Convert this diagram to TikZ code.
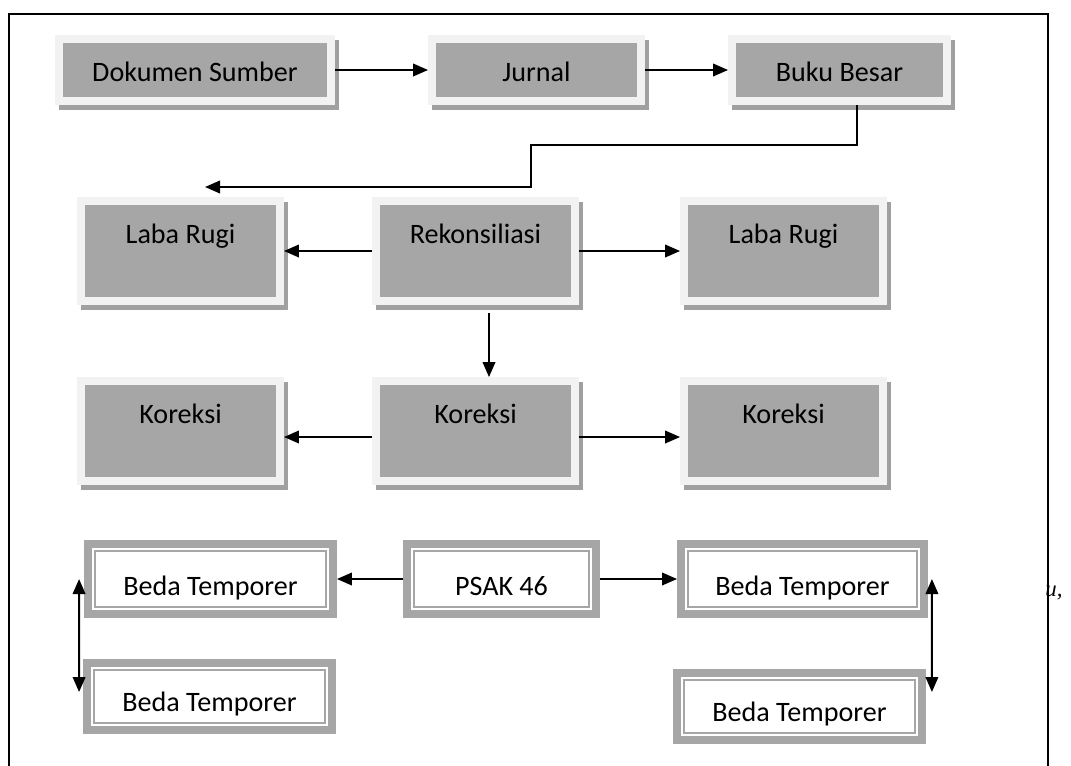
\documentclass[tikz,border=0pt]{standalone}
\usepackage{fontspec}
\setmainfont{Carlito}
\newfontfamily\serifit{Liberation Serif}
\usetikzlibrary{arrows.meta,calc}
\definecolor{boxGrey}{HTML}{A6A6A6}
\definecolor{rimGrey}{HTML}{F2F2F2}
\definecolor{shadeGrey}{HTML}{A0A0A0}
\definecolor{bandGrey}{HTML}{A6A6A6}

\begin{document}
\begin{tikzpicture}[x=0.02cm, y=-0.02cm,
  font=\fontsize{16}{19}\selectfont,
  gbox/.style={fill=boxGrey, draw=rimGrey, line width=4.5pt, inner sep=0pt,
               preaction={draw=shadeGrey, fill=shadeGrey, line width=4.5pt,
                          transform canvas={shift={(4,5)}}}},
  rowa/.style={gbox, text height=0.85cm, text depth=0.39cm},
  rowb/.style={gbox, minimum width=3.98cm, text height=0.84cm, text depth=1.16cm},
  dbox/.style={draw=bandGrey, fill=white, line width=4.5pt, inner sep=0pt,
               text height=1.02cm, text depth=0.38cm,
               path picture={\draw[bandGrey, line width=1.1pt]
                 ([shift={(7,7)}]path picture bounding box.north west) rectangle
                 ([shift={(-7,-7)}]path picture bounding box.south east);}},
  arr/.style={-{Triangle[length=0.3cm, width=0.25cm]}, line width=1.2pt},
  darr/.style={{Triangle[length=0.3cm, width=0.25cm]}-{Triangle[length=0.3cm, width=0.25cm]}, line width=1.2pt}]

\useasboundingbox (0,0) rectangle (1071,765);

% top row
\node[rowa, minimum width=5.44cm] (dok) at (195,70) {Dokumen Sumber};
\node[rowa, minimum width=4.18cm] (jur) at (536.5,70) {Jurnal};
\node[rowa, minimum width=4.30cm] (bb) at (839.5,70) {Buku Besar};

\draw[arr] (dok) -- (jur);
\draw[arr] (jur) -- (bb);

\coordinate (k1) at (857,145);
\coordinate (k2) at (531,145);
\coordinate (k3) at (531,187);
\coordinate (k4) at (205,187);
\draw[arr] (bb.south -| k1) -- (k1) -- (k2) -- (k3) -- (k4);

% second and third row
\node[rowb] (lr1) at (180.5,251) {Laba Rugi};
\node[rowb] (rek) at (475.5,251) {Rekonsiliasi};
\node[rowb] (lr2) at (783.5,251) {Laba Rugi};
\node[rowb] (kor1) at (180.5,431) {Koreksi};
\node[rowb] (kor) at (475.5,431) {Koreksi};
\node[rowb] (kor2) at (783.5,431) {Koreksi};

\draw[arr] (rek) -- (lr1);
\draw[arr] (rek) -- (lr2);
\draw[arr] ([xshift=0.27cm, yshift=-0.16cm]rek.south) -- ([xshift=0.27cm]kor.north);
\draw[arr] ([yshift=-0.12cm]kor.west) -- ([yshift=-0.12cm]kor1.east);
\draw[arr] ([yshift=-0.12cm]kor.east) -- ([yshift=-0.12cm]kor2.west);

% PSAK row
\node[dbox, minimum width=4.90cm] (bt1) at (210.5,579) {Beda Temporer};
\node[dbox, minimum width=3.78cm] (psak) at (501.5,579) {PSAK 46};
\node[dbox, minimum width=4.86cm] (bt2) at (802.5,579) {Beda Temporer};
\node[dbox, minimum width=4.90cm, text height=0.96cm] (bt3) at (209.5,696.5) {Beda Temporer};
\node[dbox, minimum width=4.90cm, text height=0.96cm] (bt4) at (799.5,706.5) {Beda Temporer};

\draw[arr] (psak) -- (bt1);
\draw[arr] (psak) -- (bt2);
\draw[darr] ([xshift=-0.1cm]bt1.west) -- ([xshift=-0.08cm, yshift=0.09cm]bt3.west);
\draw[darr] ([xshift=0.08cm]bt2.east) -- ([xshift=0.12cm, yshift=0.29cm]bt4.east);

\node[anchor=base west, inner sep=0pt, font=\serifit\itshape\fontsize{13}{15}\selectfont] (uu) at (1045,596) {u,};

% frame
\draw[line width=1.2pt] (9,780) -- (9,14) -- (1048,14) -- (1048,780);
\end{tikzpicture}
\end{document}
